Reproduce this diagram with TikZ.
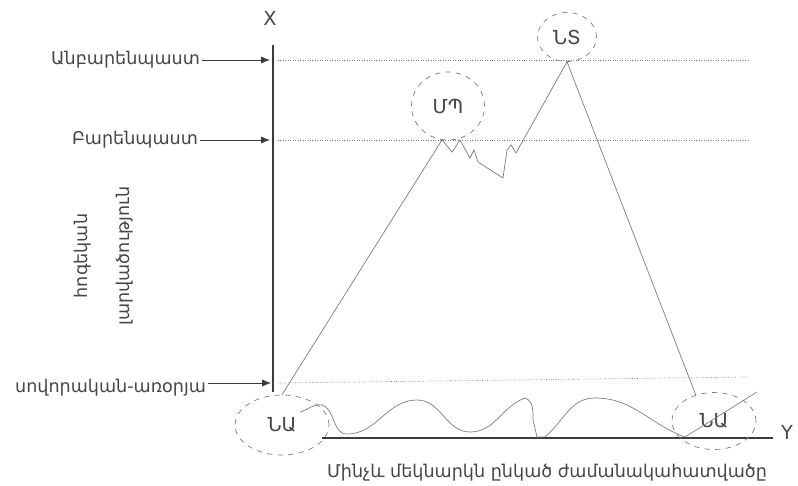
\documentclass[tikz,border=0pt]{standalone}
\usepackage{fontspec}
\setmainfont{DejaVu Sans}
\usepackage{xcolor}
\usetikzlibrary{arrows.meta,shapes.geometric}
\definecolor{GrisTexto}{RGB}{70,70,70}
\definecolor{GrisLinea}{RGB}{125,125,125}
\definecolor{GrisEje}{RGB}{60,60,60}

\begin{document}
\begin{tikzpicture}[x=0.02cm,y=-0.02cm,>=Latex]
  \tikzset{
    zona/.style={ellipse,draw=GrisLinea,dashed,thin,inner sep=0pt,
      text=GrisTexto,font=\fontsize{11}{13}\selectfont},
    nivel/.style={GrisLinea,densely dotted,thin},
    traza/.style={GrisLinea,thin},
    eje/.style={GrisEje,line width=1.6pt},
    etiq/.style={text=GrisTexto,font=\fontsize{10}{12}\selectfont,inner sep=1pt},
    flecha/.style={->,GrisEje,thin,>={Latex[length=5pt,width=4pt]}},
  }
  \useasboundingbox (0,0) rectangle (798,485);

  % ejes
  \coordinate (ejeXa) at (273,45);
  \coordinate (ejeXb) at (273,392);
  \coordinate (ejeYa) at (322,438);
  \coordinate (ejeYb) at (773,438);
  \draw[eje] (ejeXa) -- (ejeXb);
  \draw[eje] (ejeYa) -- (ejeYb);
  \node[etiq,font=\fontsize{11}{13}\selectfont] (nomX) at (270,18) {X};
  \node[etiq,font=\fontsize{11}{13}\selectfont] (nomY) at (787,432) {Y};

  % niveles
  \coordinate (n1a) at (278,60);  \coordinate (n1b) at (748,60);
  \coordinate (n2a) at (278,140); \coordinate (n2b) at (748,140);
  \coordinate (n3a) at (278,383); \coordinate (n3b) at (748,377);
  \draw[nivel] (n1a) -- (n1b);
  \draw[nivel] (n2a) -- (n2b);
  \draw[nivel] (n3a) -- (n3b);

  % rotulos de la izquierda
  \node[etiq,anchor=east] (anbar) at (202,60) {Անբարենպաստ};
  \node[etiq,anchor=east] (bar) at (200,140) {Բարենպաստ};
  \node[etiq,anchor=east] (sovor) at (208,388) {սովորական-առօրյա};
  \coordinate (f1) at (270,60);
  \coordinate (f2) at (270,140);
  \coordinate (f3) at (271,383);
  \draw[flecha] (anbar.east) -- (f1);
  \draw[flecha] (bar.east) -- (f2);
  \draw[flecha] (sovor.east |- f3) -- (f3);
  \node[etiq,rotate=90,align=center]
    (tension) at (104,256) {հոգեկան\\[12pt]լարվածություն};

  % zonas
  \node[zona,minimum width=1.88cm,minimum height=1.2cm] (na1) at (282,425) {ՆԱ};
  \node[zona,minimum width=1.46cm,minimum height=1.36cm] (mp) at (448,106) {ՄՊ};
  \node[zona,minimum width=1.18cm,minimum height=0.98cm] (nt) at (567,37) {ՆՏ};
  \node[zona,minimum width=1.68cm,minimum height=1.14cm] (na2) at (714,421) {ՆԱ};

  % trayectoria
  \draw[traza] (na1.north) -- (mp.260) -- (452,152) -- (460,140) -- (470,158)
    -- (474,150) -- (478,162) -- (503,178) -- (507,150) -- (511,145)
    -- (516,153) -- (nt.south) -- (na2.125);
  \draw[traza] (300,412) to[out=15,in=170] (322,405) to[out=-20,in=180] (347,434)
    to[out=0,in=180] (417,400) to[out=0,in=180] (470,432)
    to[out=0,in=200] (525,398) to[out=-20,in=90] (533,420) -- (537,437)
    -- (545,437) to[out=40,in=180] (595,398) to[out=0,in=160] (685,437)
    -- (757,392);

  \node[etiq] (periodo) at (547,473)
    {Մինչև մեկնարկն ընկած ժամանակահատվածը};
\end{tikzpicture}
\end{document}
